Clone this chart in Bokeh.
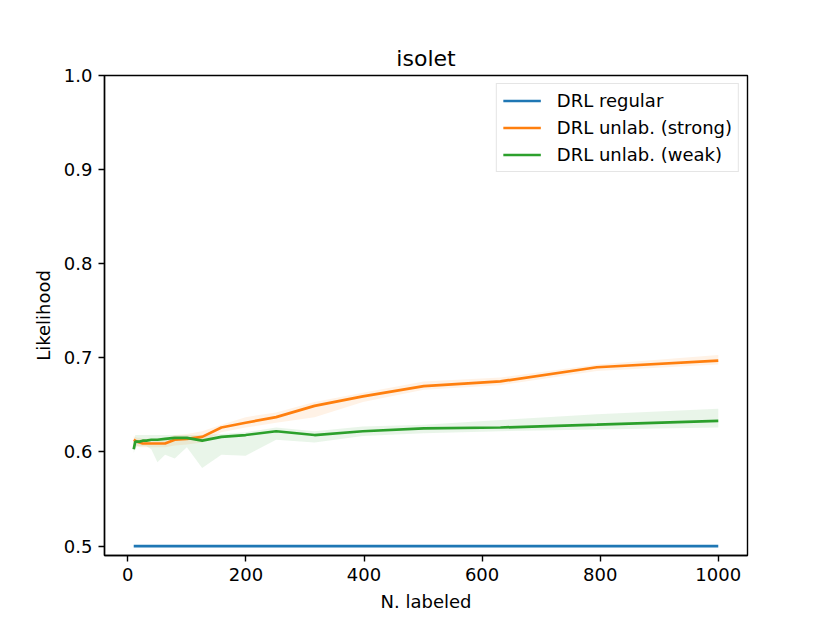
from bokeh.plotting import figure
from bokeh.models import Range1d, FixedTicker, PrintfTickFormatter
from bokeh.embed import file_html
from bokeh.resources import INLINE

# ---- data ----
n_labeled = [10, 12.59, 15.85, 19.95, 25.12, 31.62, 39.81, 50.12, 63.10, 79.43,
             100, 125.9, 158.5, 199.5, 251.2, 316.2, 398.1, 501.2, 631.0, 794.3, 1000]

regular_mean = [0.5, 0.5, 0.5, 0.5, 0.5, 0.5, 0.5, 0.5, 0.5, 0.5,
                0.5, 0.5, 0.5, 0.5, 0.5, 0.5, 0.5, 0.5, 0.5, 0.5, 0.5]

strong_mean = [0.613, 0.612, 0.611, 0.610, 0.609, 0.609, 0.609, 0.609, 0.609, 0.613,
               0.614, 0.616, 0.626, 0.631, 0.637, 0.649, 0.659, 0.670, 0.675, 0.690, 0.697]
strong_low = [0.609, 0.607, 0.606, 0.605, 0.605, 0.605, 0.605, 0.605, 0.605, 0.607,
              0.608, 0.610, 0.621, 0.626, 0.631, 0.637, 0.653, 0.666, 0.671, 0.686, 0.693]
strong_high = [0.617, 0.616, 0.615, 0.615, 0.614, 0.614, 0.614, 0.614, 0.614, 0.618,
               0.619, 0.622, 0.629, 0.637, 0.642, 0.653, 0.663, 0.675, 0.679, 0.693, 0.703]

weak_mean = [0.603, 0.611, 0.611, 0.611, 0.612, 0.612, 0.613, 0.613, 0.614, 0.615,
             0.615, 0.612, 0.616, 0.618, 0.622, 0.618, 0.622, 0.625, 0.626, 0.629, 0.633]
weak_low = [0.599, 0.604, 0.606, 0.606, 0.606, 0.606, 0.603, 0.589, 0.597, 0.593,
            0.605, 0.583, 0.597, 0.596, 0.613, 0.610, 0.617, 0.620, 0.622, 0.624, 0.626]
weak_high = [0.607, 0.618, 0.618, 0.618, 0.618, 0.618, 0.618, 0.618, 0.618, 0.618,
             0.618, 0.618, 0.619, 0.621, 0.626, 0.622, 0.627, 0.629, 0.634, 0.640, 0.646]

x_ticks = [0, 200, 400, 600, 800, 1000]
y_ticks = [0.5, 0.6, 0.7, 0.8, 0.9, 1.0]

BLUE = "#1f77b4"
ORANGE = "#ff7f0e"
GREEN = "#2ca02c"
FONT = "DejaVu Sans"

p = figure(width=807, height=615, output_backend="svg", toolbar_location=None,
           x_range=Range1d(-39.5, 1049.5), y_range=Range1d(0.49, 1.0),
           title="isolet",
           min_border_left=104, min_border_right=60, min_border_top=75, min_border_bottom=60)

p.background_fill_color = "white"
p.border_fill_color = "white"
p.outline_line_color = "black"
p.outline_line_width = 1.4
p.grid.visible = False

p.title.align = "center"
p.title.text_font = FONT
p.title.text_font_size = "22px"
p.title.text_font_style = "normal"
p.title.text_color = "black"
p.title.standoff = 10

for ax in (p.xaxis[0], p.yaxis[0]):
    ax.axis_line_width = 1.4
    ax.axis_line_color = "black"
    ax.major_tick_line_width = 1.4
    ax.major_tick_in = 0
    ax.major_tick_out = 6
    ax.minor_tick_line_color = None
    ax.major_label_text_font = FONT
    ax.major_label_text_font_size = "18px"
    ax.major_label_text_color = "black"
    ax.major_label_standoff = 6
    ax.axis_label_text_font = FONT
    ax.axis_label_text_font_size = "18px"
    ax.axis_label_text_font_style = "normal"
    ax.axis_label_text_color = "black"
    ax.axis_label_standoff = 7

p.xaxis[0].ticker = FixedTicker(ticks=x_ticks)
p.yaxis[0].ticker = FixedTicker(ticks=y_ticks)
p.yaxis[0].formatter = PrintfTickFormatter(format="%.1f")
p.xaxis[0].axis_label = "N. labeled"
p.yaxis[0].axis_label = "Likelihood"

# bands
p.varea(x=n_labeled, y1=strong_low, y2=strong_high, fill_color=ORANGE, fill_alpha=0.1)
p.varea(x=n_labeled, y1=weak_low, y2=weak_high, fill_color=GREEN, fill_alpha=0.1)

# lines
p.line(n_labeled, regular_mean, line_color=BLUE, line_width=2.7, legend_label="DRL regular")
p.line(n_labeled, strong_mean, line_color=ORANGE, line_width=2.7, legend_label="DRL unlab. (strong)")
p.line(n_labeled, weak_mean, line_color=GREEN, line_width=2.7, legend_label="DRL unlab. (weak)")

lg = p.legend[0]
lg.location = "top_right"
lg.margin = 8
lg.padding = 6
lg.spacing = 6
lg.glyph_width = 38
lg.glyph_height = 19
lg.label_height = 19
lg.label_standoff = 16
lg.label_text_font = FONT
lg.label_text_font_size = "18px"
lg.label_text_color = "black"
lg.border_line_color = "#cccccc"
lg.border_line_width = 1.4
lg.background_fill_color = "white"
lg.background_fill_alpha = 0.8

open("out.html", "w").write(file_html(p, INLINE))
